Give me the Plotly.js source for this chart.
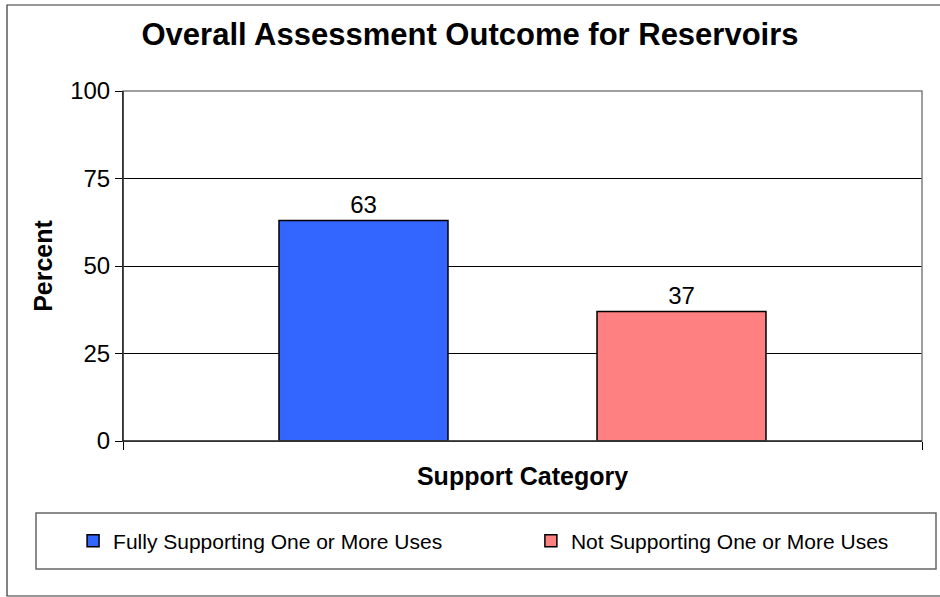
<!DOCTYPE html>
<html>
<head>
<meta charset="utf-8">
<script src="https://cdn.plot.ly/plotly-3.0.1.min.js"></script>
<style>html,body{margin:0;padding:0;background:#fff;}#chart{width:940px;height:597px;}</style>
</head>
<body>
<div id="chart"></div>
<script>
var categories = ["Support Category"];
var seriesNames = ["Fully Supporting One or More Uses", "Not Supporting One or More Uses"];
var fullySupporting = [63];
var notSupporting = [37];
var yTicks = [0, 25, 50, 75, 100];
var colors = ["#3366FF", "#FF8080"];

var FONT = "Liberation Sans, Arial, sans-serif";
var legendIds = ["legend", "legend2"];

var series = [fullySupporting, notSupporting];
var traces = series.map(function (vals, i) {
  return {
    type: "bar",
    name: seriesNames[i],
    legend: legendIds[i],
    x: categories,
    y: vals,
    text: vals.map(String),
    textposition: "outside",
    cliponaxis: false,
    textfont: {family: FONT, size: 24, color: "#000"},
    marker: {color: colors[i], line: {color: "#000", width: 1.5}},
    hoverinfo: "none"
  };
});

function legendStyle(x) {
  return {
    orientation: "h",
    x: x, xanchor: "left",
    y: -0.286, yanchor: "middle",
    font: {family: FONT, size: 21, color: "#000"},
    bgcolor: "rgba(0,0,0,0)", borderwidth: 0
  };
}

var layout = {
  width: 940, height: 597,
  margin: {l: 123, r: 18, t: 91, b: 156},
  paper_bgcolor: "#fff", plot_bgcolor: "#fff",
  font: {family: FONT, color: "#000"},
  barmode: "group",
  bargap: 0.204,
  bargroupgap: 0.4686,
  showlegend: true,
  title: {
    text: "<b>Overall Assessment Outcome for Reservoirs</b>",
    font: {family: FONT, size: 31, color: "#000"},
    x: 0.5, xref: "container", xanchor: "center",
    y: 1 - 34 / 597, yref: "container", yanchor: "middle"
  },
  xaxis: {
    type: "category",
    range: [-0.5, 0.5],
    showticklabels: false,
    ticks: "outside", tickson: "boundaries", ticklen: 8, tickcolor: "#000",
    showline: true, linecolor: "#000", linewidth: 1,
    showgrid: false, zeroline: false,
    title: {text: "<b>Support Category</b>", font: {family: FONT, size: 25, color: "#000"}, standoff: 26}
  },
  yaxis: {
    range: [0, 100],
    tickvals: yTicks,
    ticktext: yTicks.map(String),
    tickfont: {family: FONT, size: 24, color: "#000"},
    ticks: "outside", ticklen: 7, tickcolor: "#000",
    showline: true, linecolor: "#000", linewidth: 1,
    showgrid: true, gridcolor: "#000", gridwidth: 1,
    zeroline: false,
    title: {text: "<b>Percent</b>", font: {family: FONT, size: 25, color: "#000"}, standoff: 10}
  },
  legend: legendStyle(-0.0625),
  legend2: legendStyle(0.5105),
  shapes: [
    {type: "rect", xref: "paper", yref: "paper", x0: 0, x1: 1, y0: 0, y1: 1,
     line: {color: "#808080", width: 1.5}, layer: "above"},
    {type: "line", xref: "paper", yref: "paper", x0: 0, x1: 0, y0: 0, y1: 1,
     line: {color: "#000", width: 1}, layer: "above"},
    {type: "line", xref: "paper", yref: "paper", x0: 0, x1: 1, y0: 0, y1: 0,
     line: {color: "#000", width: 1}, layer: "above"},
    {type: "rect", xref: "paper", yref: "paper",
     x0: (36 - 123) / 799, x1: (936 - 123) / 799,
     y0: (441 - 569) / 350, y1: (441 - 513) / 350,
     line: {color: "#666", width: 1.5}, layer: "below"},
    {type: "rect", xref: "paper", yref: "paper",
     x0: (7 - 123) / 799, x1: (942 - 123) / 799,
     y0: (441 - 596) / 350, y1: (441 - 5) / 350,
     line: {color: "#333", width: 1.2}, layer: "below"}
  ]
};

Plotly.newPlot("chart", traces, layout, {displayModeBar: false, staticPlot: true});
</script>
</body>
</html>
